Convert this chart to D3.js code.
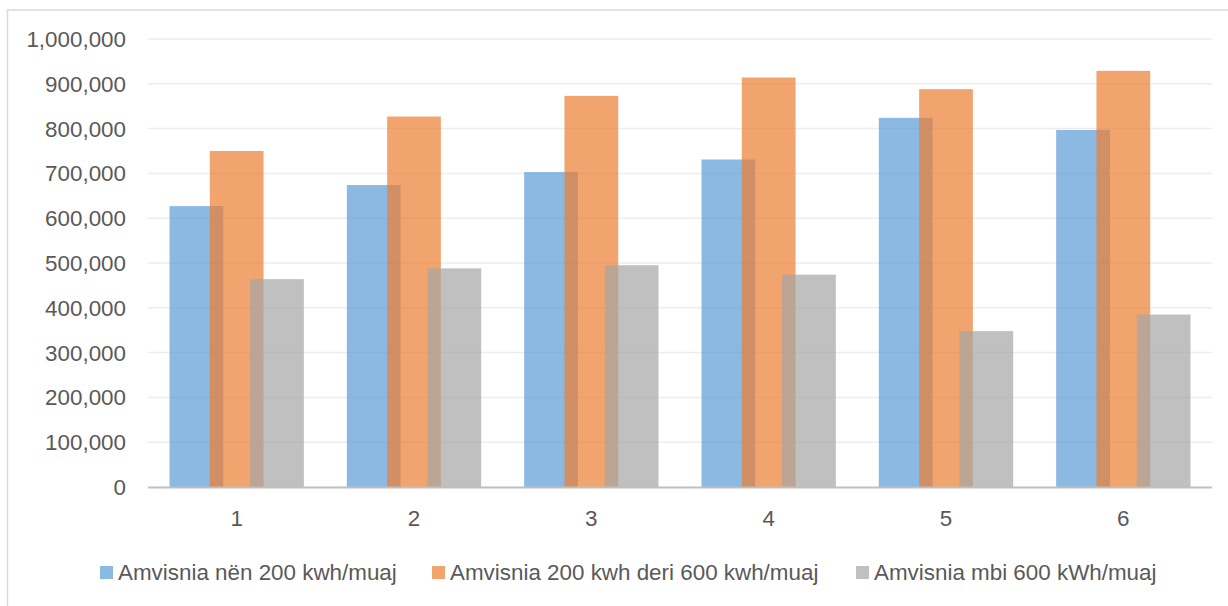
<!DOCTYPE html>
<html>
<head>
<meta charset="utf-8">
<script src="https://cdn.jsdelivr.net/npm/d3@7"></script>
<style>
  html, body { margin: 0; padding: 0; background: #fff; }
  svg { display: block; font-family: "Liberation Sans", Arial, sans-serif; }
</style>
</head>
<body>
<svg id="chart" width="1228" height="606"></svg>
<script>
(function () {
  'use strict';

  // Data
  var categories = ['1', '2', '3', '4', '5', '6'];
  var seriesNames = [
    'Amvisnia nën 200 kwh/muaj',
    'Amvisnia 200 kwh deri 600 kwh/muaj',
    'Amvisnia mbi 600 kWh/muaj'
  ];
  var below200 = [627000, 674000, 703000, 731000, 824000, 797000];
  var from200to600 = [750000, 827000, 873000, 914000, 888000, 929000];
  var above600 = [464000, 488000, 495000, 474000, 348000, 385000];
  var yTicks = [0, 100000, 200000, 300000, 400000, 500000, 600000, 700000, 800000, 900000, 1000000];

  var seriesValues = [below200, from200to600, above600];
  var colors = ['#5B9BD5', '#ED7D31', '#A5A5A5'];
  var textColor = '#595959';
  var fontSize = '22.4px';

  var svg = d3.select('#chart');

  // Chart area frame (light border, runs off right/bottom edge)
  svg.append('rect')
    .attr('x', 7.5).attr('y', 10)
    .attr('width', 1240).attr('height', 620)
    .attr('fill', 'none')
    .attr('stroke', '#D9D9D9')
    .attr('stroke-width', 1.5);

  var plot = { left: 148, right: 1212, top: 39, bottom: 487 };

  var x = d3.scaleBand()
    .domain(categories)
    .range([plot.left, plot.right])
    .padding(0);

  var y = d3.scaleLinear()
    .domain([0, 1000000])
    .range([plot.bottom, plot.top]);

  // Excel-style gap width 80%, overlap 25%
  var gapWidth = 0.8, overlap = 0.25, n = seriesValues.length;
  var barW = x.bandwidth() / (n - (n - 1) * overlap + gapWidth);
  var barStep = barW * (1 - overlap);
  var groupW = barW + (n - 1) * barStep;

  // Gridlines
  svg.append('g')
    .selectAll('line')
    .data(yTicks.slice(1))
    .join('line')
    .attr('x1', plot.left).attr('x2', plot.right)
    .attr('y1', function (d) { return y(d); })
    .attr('y2', function (d) { return y(d); })
    .attr('stroke', '#EDEDED')
    .attr('stroke-width', 1.5);

  // Y axis labels
  var fmt = d3.format(',');
  svg.append('g')
    .selectAll('text')
    .data(yTicks)
    .join('text')
    .attr('x', 126)
    .attr('y', function (d) { return y(d); })
    .attr('dy', '0.36em')
    .attr('text-anchor', 'end')
    .attr('fill', textColor)
    .attr('font-size', fontSize)
    .text(function (d) { return fmt(d); });

  // Bars
  seriesValues.forEach(function (vals, si) {
    svg.append('g')
      .selectAll('rect')
      .data(vals)
      .join('rect')
      .attr('x', function (d, i) {
        return x(categories[i]) + (x.bandwidth() - groupW) / 2 + si * barStep;
      })
      .attr('y', function (d) { return y(d); })
      .attr('width', barW)
      .attr('height', function (d) { return y(0) - y(d); })
      .attr('fill', colors[si])
      .attr('fill-opacity', 0.7);
  });

  // Baseline
  svg.append('line')
    .attr('x1', plot.left).attr('x2', plot.right)
    .attr('y1', y(0) + 0.5).attr('y2', y(0) + 0.5)
    .attr('stroke', '#BFBFBF')
    .attr('stroke-width', 2);

  // Category labels
  svg.append('g')
    .selectAll('text')
    .data(categories)
    .join('text')
    .attr('x', function (d) { return x(d) + x.bandwidth() / 2; })
    .attr('y', 526)
    .attr('text-anchor', 'middle')
    .attr('fill', textColor)
    .attr('font-size', fontSize)
    .text(function (d) { return d; });

  // Legend
  var legendX = [100, 432, 856];
  var legend = svg.append('g')
    .selectAll('g')
    .data(seriesNames)
    .join('g')
    .attr('transform', function (d, i) { return 'translate(' + legendX[i] + ',566)'; });

  legend.append('rect')
    .attr('width', 13).attr('height', 13)
    .attr('fill', function (d, i) { return colors[i]; })
    .attr('fill-opacity', 0.7);

  legend.append('text')
    .attr('x', 18)
    .attr('y', 14)
    .attr('fill', textColor)
    .attr('font-size', fontSize)
    .text(function (d) { return d; });
})();
</script>
</body>
</html>
